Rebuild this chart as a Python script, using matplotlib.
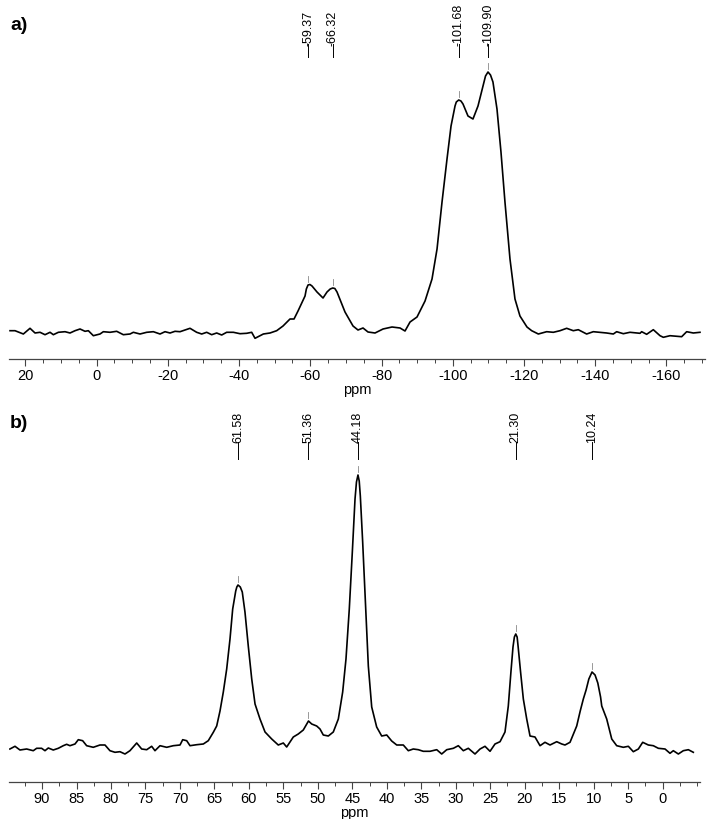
import numpy as np
import matplotlib
matplotlib.use('Agg')
import matplotlib.pyplot as plt
from matplotlib.ticker import MultipleLocator, FixedLocator, FuncFormatter

# spektrum a) : ppm, intensitas (dibaca dari gambar)
ppm_a = [24.29, 22.89, 20.55, 18.68, 17.27, 15.87, 14.47, 13.06, 12.13, 10.72,
         8.85, 7.45, 6.04, 4.64, 3.24, 2.30, 0.90, -0.97, -1.91, -3.78,
         -5.65, -7.52, -9.40, -10.33, -12.20, -14.08, -15.95, -17.82, -19.22, -20.63,
         -22.03, -23.43, -24.84, -26.24, -28.11, -29.52, -30.92, -32.32, -33.73, -35.13,
         -36.53, -38.41, -40.28, -42.15, -43.55, -44.49, -46.83, -48.70, -50.57, -52.35,
         -54.31, -55.44, -56.56, -58.53, -58.90, -59.37, -59.90, -60.49, -61.89, -63.58,
         -64.70, -65.60, -66.32, -66.90, -67.51, -69.75, -72.00, -73.40, -74.81, -76.21,
         -78.18, -80.43, -82.95, -85.20, -86.60, -88.01, -89.97, -92.22, -94.18, -95.59,
         -96.99, -98.39, -99.52, -100.64, -101.00, -101.68, -102.30, -102.88, -104.28, -105.68,
         -107.09, -108.49, -109.20, -109.90, -110.60, -111.29, -112.42, -113.54, -114.66, -116.07,
         -117.47, -118.87, -120.84, -122.16, -124.03, -126.37, -128.24, -130.11, -131.98, -133.85,
         -135.25, -137.59, -139.46, -141.34, -143.21, -145.08, -146.02, -147.89, -149.76, -152.57,
         -153.04, -154.44, -156.31, -158.19, -159.12, -160.99, -162.87, -164.27, -165.67, -167.54,
         -169.41]
int_a = [1.3, 1.3, -2.0, 3.7, -1.0, -0.3, -2.7, -0.3, -2.7, -0.3,
         0.3, -1.0, 1.3, 3.0, 0.7, 1.3, -3.7, -2.0, 0.3, -0.3,
         0.7, -2.7, -2.0, -0.3, -2.0, -0.3, 0.3, -2.0, 0.3, -1.0,
         0.7, 0.3, 2.0, 3.7, -0.3, -2.0, -0.3, -2.7, -1.0, -3.0,
         -0.3, -0.3, -1.7, -1.3, -0.3, -6.3, -2.0, -1.0, 1.3, 6,
         13, 13, 21, 36, 43, 47, 47.5, 46, 40, 34,
         40, 43, 44, 43.5, 40, 20, 6, 2, 4, 0,
         -1, 3, 5, 4, 1, 10, 15, 31, 53, 83,
         130, 173, 206, 226, 230, 232, 231, 228, 216, 213,
         226, 246, 256, 260, 257, 250, 223, 180, 130, 73,
         33, 16, 5, 1.3, -2, 0.3, -0.3, 1.3, 3.7, 1.3,
         2.3, -2, 0.3, -0.3, -1, -2, 0.3, -1.7, -0.3, -1.3,
         0.3, -2.3, 2.3, -3.7, -5.3, -3.7, -4.3, -4.7, 0.3, -1,
         -0.3]
peaks_a = [-59.37, -66.32, -101.68, -109.90]

# spektrum b)
ppm_b = [94.66, 93.92, 93.20, 92.23, 91.27, 90.78, 90.06, 89.57, 89.09, 88.37,
         87.64, 86.92, 86.43, 85.95, 85.22, 84.74, 84.11, 83.53, 82.57, 81.60,
         80.87, 80.15, 79.42, 78.70, 77.97, 77.25, 76.27, 75.55, 74.82, 74.10,
         73.62, 72.89, 71.92, 70.96, 69.99, 69.60, 69.02, 68.54, 67.57, 66.61,
         65.89, 65.16, 64.67, 64.19, 63.71, 63.22, 62.74, 62.35, 61.91, 61.75,
         61.58, 61.25, 60.96, 60.57, 60.09, 59.59, 59.11, 58.39, 57.66, 56.69,
         55.74, 55.01, 54.52, 53.56, 52.84, 52.11, 51.36, 50.89, 50.17, 49.69,
         49.21, 48.48, 47.76, 47.03, 46.40, 45.92, 45.44, 45.00, 44.61, 44.40,
         44.18, 44.00, 43.84, 43.50, 43.06, 42.68, 42.19, 41.47, 40.74, 40.01,
         39.29, 38.56, 37.61, 36.88, 36.16, 35.43, 34.71, 33.73, 32.76, 32.04,
         31.31, 30.35, 29.63, 28.90, 28.18, 27.21, 26.48, 25.76, 25.03, 24.31,
         23.58, 22.86, 22.38, 22.00, 21.70, 21.50, 21.30, 21.10, 20.95, 20.60,
         20.20, 19.71, 19.23, 18.51, 17.78, 17.06, 16.33, 15.36, 14.63, 14.16,
         13.43, 12.46, 11.95, 11.50, 11.10, 10.70, 10.24, 9.80, 9.40, 9.00,
         8.83, 8.11, 7.38, 6.66, 5.70, 4.97, 4.25, 3.52, 2.89, 2.07,
         1.35, 0.62, -0.35, -1.07, -1.55, -2.28, -3.00, -3.73, -4.45]
int_b = [-2, 0.7, -3, -2, -3.7, -1.3, -1.3, -3.7, -1, -3,
         -1.3, 1.3, 2.7, 1.3, 3, 7.3, 6.3, 1.3, -0.3, 2,
         2, -3.7, -5.3, -4.7, -7, -3.7, 4, -2, -2.7, 0.7,
         -3.7, 1.3, -0.3, 1.3, 2, 7.3, 6.3, 1.3, 2.3, 3,
         6.3, 14.7, 21, 36, 55, 78, 108, 138, 156, 160,
         162, 160, 155, 135, 101, 68, 43, 28, 15, 8,
         2, 4, 0, 10, 13, 17, 26, 23, 21, 18,
         12, 11, 15, 28, 55, 88, 138, 195, 248, 265,
         272, 266, 251, 205, 138, 81, 40, 20, 11, 12,
         6, 2, 2, -3.7, -2, -2.7, -4.3, -4.3, -2.7, -7,
         -2.7, -1.3, 1.3, -3.7, -1.3, -7, -2, 0.7, -4.3, 3,
         5.3, 15, 41, 75, 100, 110, 113, 110, 100, 75,
         48, 28, 11, 10, 1.3, 4.7, 2, 5.3, 3, 2,
         4.7, 21, 36, 48, 57, 68, 75, 72, 64, 50,
         41, 28, 8, 1.3, -0.3, 0.7, -4.7, -2, 4.7, 2,
         1.3, -1.3, -2, -6.3, -3.7, -7, -3.7, -2.7, -5.3]
peaks_b = [61.58, 51.36, 44.18, 21.30, 10.24]

ticks_a = [20, 0, -20, -40, -60, -80, -100, -120, -140, -160]
ticks_b = [90, 85, 80, 75, 70, 65, 60, 55, 50, 45, 40, 35, 30, 25, 20, 15, 10, 5, 0]

narrow = ['Liberation Sans Narrow', 'Liberation Sans', 'DejaVu Sans']
plt.rcParams['font.family'] = ['Liberation Sans', 'DejaVu Sans']

fig = plt.figure(figsize=(7.09, 8.2), dpi=100)
ax1 = fig.add_axes([9/709, 460/820, 696/709, 360/820])
ax2 = fig.add_axes([9/709, 37/820, 691/709, 383/820])


def style(ax, ticks, minor):
    for s in ['left', 'right', 'top']:
        ax.spines[s].set_visible(False)
    ax.spines['bottom'].set_color('#444444')
    ax.spines['bottom'].set_linewidth(0.9)
    ax.set_yticks([])
    ax.xaxis.set_major_locator(FixedLocator(ticks))
    ax.xaxis.set_minor_locator(MultipleLocator(minor))
    ax.xaxis.set_major_formatter(FuncFormatter(lambda v, pos: '%d' % v))
    ax.tick_params(axis='x', which='major', length=5, width=0.8, color='#444444',
                   labelsize=10.5, pad=1.5)
    ax.tick_params(axis='x', which='minor', length=3, width=0.7, color='#444444')
    for lab in ax.get_xticklabels():
        lab.set_family(narrow)
    ax.set_xlabel('ppm', fontsize=10.5, family=narrow, labelpad=0)
    ax.patch.set_alpha(0)


def peak_labels(ax, ppm, inten, peaks, y_line0, y_line1):
    ppm = np.array(ppm)
    for p in peaks:
        i = np.argmin(np.abs(ppm - p))
        h = inten[i]
        ax.plot([p, p], [h + 3, h + 9], color='#888888', lw=0.6)
        ax.plot([p, p], [y_line0, y_line1], color='black', lw=0.7)
        ax.text(p, y_line1 - 0.5, '%.2f' % p, rotation=90, ha='center', va='bottom',
                fontsize=9)


# a)
ax1.plot(ppm_a, int_a, color='black', lw=1.2)
ax1.set_xlim(24.58, -170.82)
ax1.set_ylim(-27, 333)
style(ax1, ticks_a, 5)
peak_labels(ax1, ppm_a, int_a, peaks_a, 275, 288)
fig.text(10/709, 1 - 30/820, 'a)', fontsize=14, fontweight='bold', family=narrow)

# b)
ax2.plot(ppm_b, int_b, color='black', lw=1.2)
ax2.set_xlim(94.79, -5.42)
ax2.set_ylim(-35, 348)
style(ax2, ticks_b, 2.5)
peak_labels(ax2, ppm_b, int_b, peaks_b, 288, 305)
fig.text(10/709, 1 - 428/820, 'b)', fontsize=14, fontweight='bold', family=narrow)

fig.savefig('out.png', dpi=100)
